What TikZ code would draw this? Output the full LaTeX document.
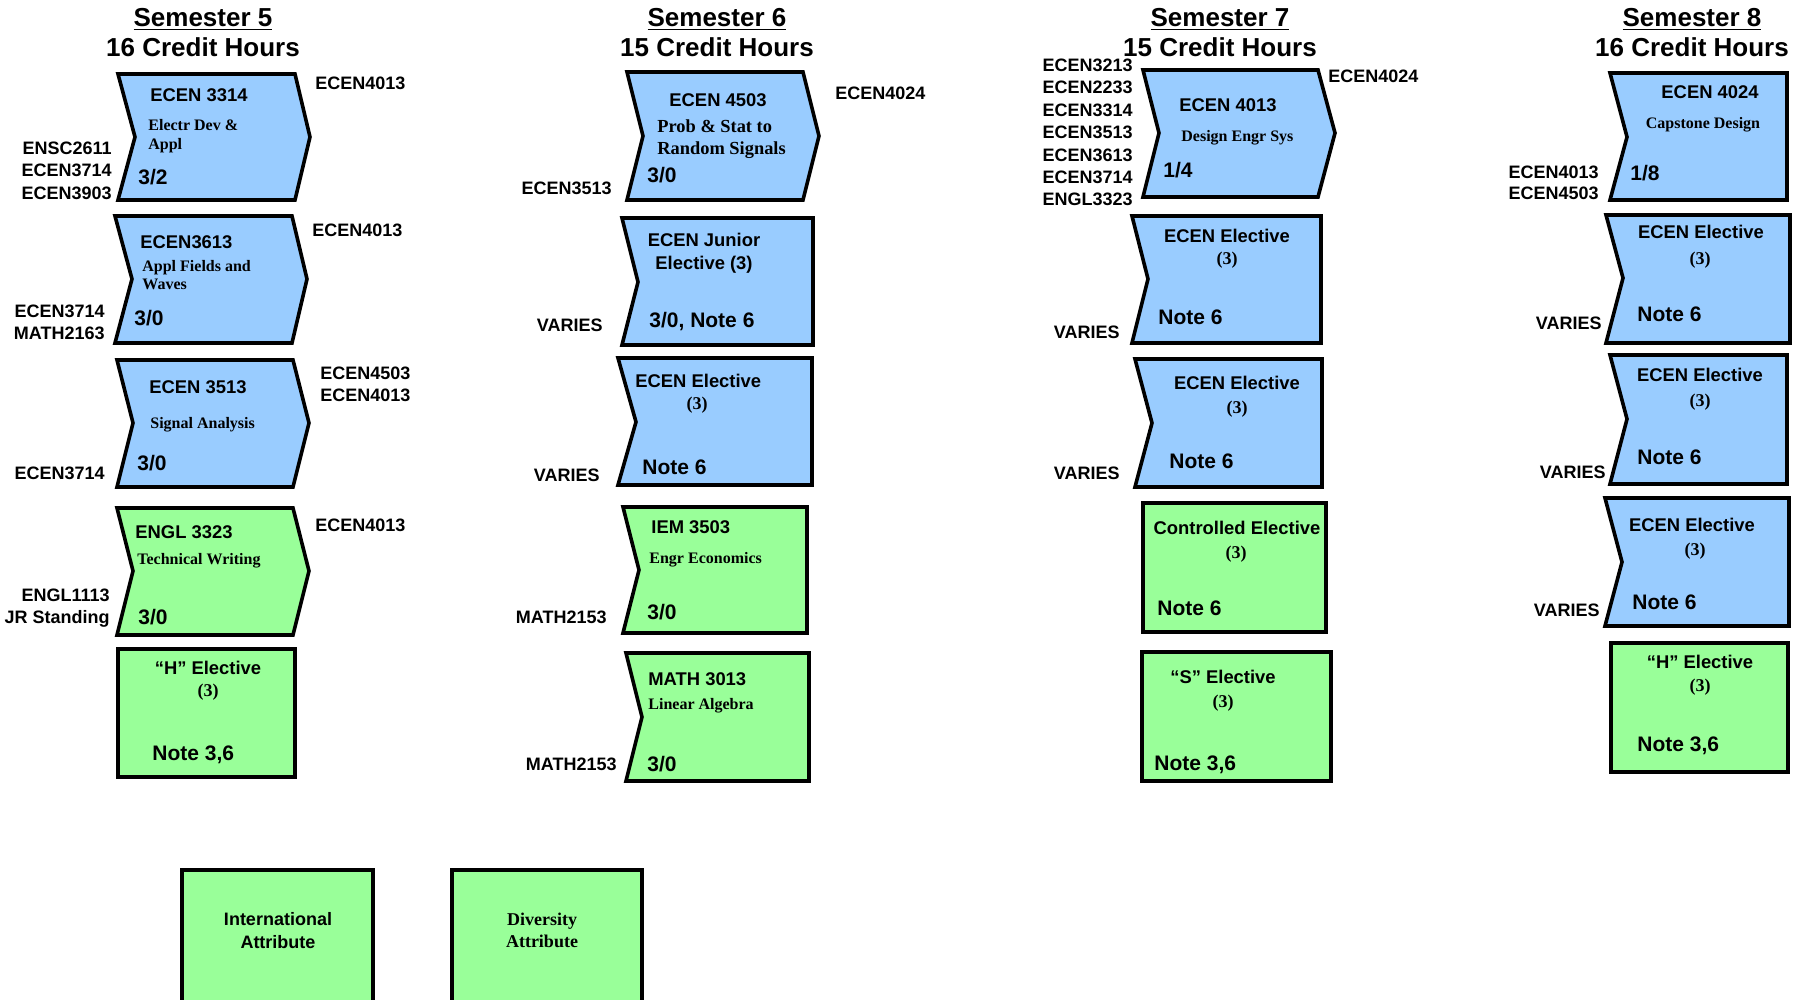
\documentclass[tikz,border=0pt]{standalone}
\usepackage{fontspec}
\setmainfont{Liberation Sans}
\newfontfamily\timesbf{Liberation Serif}
\definecolor{coreblue}{HTML}{99CCFF}
\definecolor{genedgreen}{HTML}{99FF99}
\begin{document}
\begin{tikzpicture}[x=0.5pt, y=-0.5pt,
    box/.style = {line width=1.8pt, line join=miter},
    core/.style = {box, draw=black, fill=coreblue},
    gened/.style = {box, draw=black, fill=genedgreen},
    head/.style = {font=\fontsize{13}{15}\selectfont\bfseries, align=center, inner sep=0pt, anchor=north},
    code/.style = {font=\fontsize{9.2}{11.5}\selectfont\bfseries, inner sep=0pt, text height=6.6pt, text depth=0pt},
    desc/.style = {font=\fontsize{8}{9.5}\timesbf\bfseries, inner sep=0pt, align=left, anchor=north west},
    paren/.style = {font=\fontsize{9}{11}\timesbf\bfseries, inner sep=0pt, text height=6.1pt, text depth=0pt},
    hrs/.style = {font=\fontsize{10.5}{12.5}\selectfont\bfseries, inner sep=0pt, text height=7.5pt, text depth=0pt, anchor=west},
    req/.style = {font=\fontsize{9}{11.2}\selectfont\bfseries, inner sep=0pt}
    ]
    \clip (0,0) rectangle (1797,1000);
    \node[head] (sem5) at (203,8) {\underline{Semester 5}\\16 Credit Hours};
    \node[head] (sem6) at (717,8) {\underline{Semester 6}\\15 Credit Hours};
    \node[head] (sem7) at (1220,8) {\underline{Semester 7}\\15 Credit Hours};
    \node[head] (sem8) at (1692,8) {\underline{Semester 8}\\16 Credit Hours};

    \filldraw[core] (118,74) -- (295,74) -- (310,137) -- (295,200) -- (118,200) -- (135,137) -- cycle;
    \node[code, anchor=west] (c3314) at (150,95) {ECEN 3314};
    \node[desc] (d3314) at (148,118.7) {Electr Dev \&\\Appl};
    \node[hrs] (h3314) at (138,177) {3/2};
    \node[req, anchor=north west] (post3314) at (315,76.5) {ECEN4013};
    \node[req, anchor=north east, align=right] (pre3314) at (112,141.5) {ENSC2611\\ECEN3714\\ECEN3903};

    \filldraw[core] (115,216) -- (292,216) -- (307,279) -- (292,343) -- (115,343) -- (132,279) -- cycle;
    \node[code, anchor=west] (c3613) at (140,242) {ECEN3613};
    \node[desc, font=\fontsize{8}{9.1}\timesbf\bfseries] (d3613) at (142,259.7) {Appl Fields and\\Waves};
    \node[hrs] (h3613) at (134,318) {3/0};
    \node[req, anchor=north west] (post3613) at (312,223.5) {ECEN4013};
    \node[req, anchor=north east, align=right] (pre3613) at (105,304.5) {ECEN3714\\MATH2163};

    \filldraw[core] (117,360) -- (293,360) -- (309,423) -- (293,487) -- (117,487) -- (133,423) -- cycle;
    \node[code, anchor=west] (c3513) at (149,387) {ECEN 3513};
    \node[desc] (d3513) at (150,416.7) {Signal Analysis};
    \node[hrs] (h3513) at (137,463) {3/0};
    \node[req, anchor=north west, align=left] (post3513) at (320,366.5) {ECEN4503\\ECEN4013};
    \node[req, anchor=north east] (pre3513) at (105,466.5) {ECEN3714};

    \filldraw[gened] (117,508) -- (293,508) -- (309,571) -- (293,635) -- (117,635) -- (133,571) -- cycle;
    \node[code, anchor=west] (c3323) at (135,532) {ENGL 3323};
    \node[desc] (d3323) at (137,552.7) {Technical Writing};
    \node[hrs] (h3323) at (138,617) {3/0};
    \node[req, anchor=north west] (post3323) at (315,518.5) {ECEN4013};
    \node[req, anchor=north east, align=right] (pre3323) at (110,588.5) {ENGL1113\\JR Standing};

    \filldraw[gened] (118,649) rectangle (295,777);
    \node[code] (helec5) at (208,668) {“H” Elective};
    \node[paren] (helec5cr) at (208,690) {(3)};
    \node[hrs] (helec5n) at (152,753) {Note 3,6};

    \filldraw[core] (627,72) -- (803,72) -- (819,136) -- (803,200) -- (627,200) -- (643,136) -- cycle;
    \node[code] (c4503) at (718,100) {ECEN 4503};
    \node[desc, font=\fontsize{9.2}{11}\timesbf\bfseries] (d4503) at (657,119) {Prob \& Stat to\\Random Signals};
    \node[hrs] (h4503) at (647,175) {3/0};
    \node[req, anchor=north west] (post4503) at (835,86.5) {ECEN4024};
    \node[req, anchor=north east] (pre4503) at (612,181.5) {ECEN3513};

    \filldraw[core] (622,218) -- (813,218) -- (813,345) -- (622,345) -- (638,282) -- cycle;
    \node[code] (jr6a) at (704,240) {ECEN Junior};
    \node[code] (jr6b) at (704,263) {Elective (3)};
    \node[hrs] (jr6n) at (649,320) {3/0, Note 6};
    \node[req, anchor=north east] (jr6pre) at (603,318.5) {VARIES};

    \filldraw[core] (618,358) -- (812,358) -- (812,485) -- (618,485) -- (636,422) -- cycle;
    \node[code, anchor=west] (el6) at (635,381) {ECEN Elective};
    \node[paren] (el6cr) at (697,403) {(3)};
    \node[hrs] (el6n) at (642,467) {Note 6};
    \node[req, anchor=north east] (el6pre) at (600,468.5) {VARIES};

    \filldraw[gened] (623,507) -- (807,507) -- (807,633) -- (623,633) -- (639,570) -- cycle;
    \node[code, anchor=west] (c3503) at (651,527) {IEM 3503};
    \node[desc] (d3503) at (649,551.7) {Engr Economics};
    \node[hrs] (h3503) at (647,612) {3/0};
    \node[req, anchor=north east] (pre3503) at (607,610.5) {MATH2153};

    \filldraw[gened] (626,653) -- (809,653) -- (809,781) -- (626,781) -- (642,717) -- cycle;
    \node[code, anchor=west] (c3013) at (648,679) {MATH 3013};
    \node[desc] (d3013) at (648,697.7) {Linear Algebra};
    \node[hrs] (h3013) at (647,764) {3/0};
    \node[req, anchor=north east] (pre3013) at (617,757.5) {MATH2153};

    \filldraw[core] (1143,70) -- (1318,70) -- (1335,133) -- (1318,197) -- (1143,197) -- (1159,133) -- cycle;
    \node[code, anchor=west] (c4013) at (1179,105) {ECEN 4013};
    \node[desc] (d4013) at (1181,129.7) {Design Engr Sys};
    \node[hrs] (h4013) at (1163,170) {1/4};
    \node[req, anchor=north west] (post4013) at (1328,69.5) {ECEN4024};
    \node[req, anchor=north east, align=right] (pre4013) at (1133,58.5) {ECEN3213\\ECEN2233\\ECEN3314\\ECEN3513\\ECEN3613\\ECEN3714\\ENGL3323};

    \filldraw[core] (1132,216) -- (1321,216) -- (1321,343) -- (1132,343) -- (1148,279) -- cycle;
    \node[code] (el7a) at (1227,236) {ECEN Elective};
    \node[paren] (el7acr) at (1227,258) {(3)};
    \node[hrs] (el7an) at (1158,317) {Note 6};
    \node[req, anchor=north east] (el7apre) at (1120,325.5) {VARIES};

    \filldraw[core] (1135,359) -- (1322,359) -- (1322,487) -- (1135,487) -- (1152,423) -- cycle;
    \node[code] (el7b) at (1237,383) {ECEN Elective};
    \node[paren] (el7bcr) at (1237,407) {(3)};
    \node[hrs] (el7bn) at (1169,461) {Note 6};
    \node[req, anchor=north east] (el7bpre) at (1120,466.5) {VARIES};

    \filldraw[gened] (1143,503) rectangle (1326,632);
    \node[code] (ctrl7) at (1237,528) {Controlled Elective};
    \node[paren] (ctrl7cr) at (1236,552) {(3)};
    \node[hrs] (ctrl7n) at (1157,608) {Note 6};

    \filldraw[gened] (1142,652) rectangle (1331,781);
    \node[code] (selec7) at (1223,677) {“S” Elective};
    \node[paren] (selec7cr) at (1223,701) {(3)};
    \node[hrs] (selec7n) at (1154,763) {Note 3,6};

    \filldraw[core] (1610,73) -- (1787,73) -- (1787,200) -- (1610,200) -- (1627,137) -- cycle;
    \node[code] (c4024) at (1710,92) {ECEN 4024};
    \node[desc, anchor=north] (d4024) at (1703,116.7) {Capstone Design};
    \node[hrs] (h4024) at (1630,173) {1/8};
    \node[req, anchor=north east, align=right, font=\fontsize{9}{10.5}\selectfont\bfseries] (pre4024) at (1599,165.5) {ECEN4013\\ECEN4503};

    \filldraw[core] (1606,215) -- (1790,215) -- (1790,343) -- (1606,343) -- (1623,278) -- cycle;
    \node[code] (el8a) at (1701,232) {ECEN Elective};
    \node[paren] (el8acr) at (1700,258) {(3)};
    \node[hrs] (el8an) at (1637,314) {Note 6};
    \node[req, anchor=north east] (el8apre) at (1602,316.5) {VARIES};

    \filldraw[core] (1610,355) -- (1787,355) -- (1787,484) -- (1610,484) -- (1627,419) -- cycle;
    \node[code] (el8b) at (1700,375) {ECEN Elective};
    \node[paren] (el8bcr) at (1700,400) {(3)};
    \node[hrs] (el8bn) at (1637,457) {Note 6};
    \node[req, anchor=north east] (el8bpre) at (1606,465.5) {VARIES};

    \filldraw[core] (1605,498) -- (1789,498) -- (1789,626) -- (1605,626) -- (1622,562) -- cycle;
    \node[code] (el8c) at (1692,525) {ECEN Elective};
    \node[paren] (el8ccr) at (1695,549) {(3)};
    \node[hrs] (el8cn) at (1632,602) {Note 6};
    \node[req, anchor=north east] (el8cpre) at (1600,603.5) {VARIES};

    \filldraw[gened] (1611,643) rectangle (1788,772);
    \node[code] (helec8) at (1700,662) {“H” Elective};
    \node[paren] (helec8cr) at (1700,685) {(3)};
    \node[hrs] (helec8n) at (1637,744) {Note 3,6};

    \filldraw[gened] (182,870) rectangle (373,1012);
    \node[req, align=center, font=\fontsize{9}{11.5}\selectfont\bfseries] (intl) at (278,931) {International\\Attribute};
    \filldraw[gened] (452,870) rectangle (642,1012);
    \node[desc, anchor=center, align=center, font=\fontsize{9}{11}\timesbf\bfseries] (divers) at (542,930) {Diversity\\Attribute};
\end{tikzpicture}
\end{document}
